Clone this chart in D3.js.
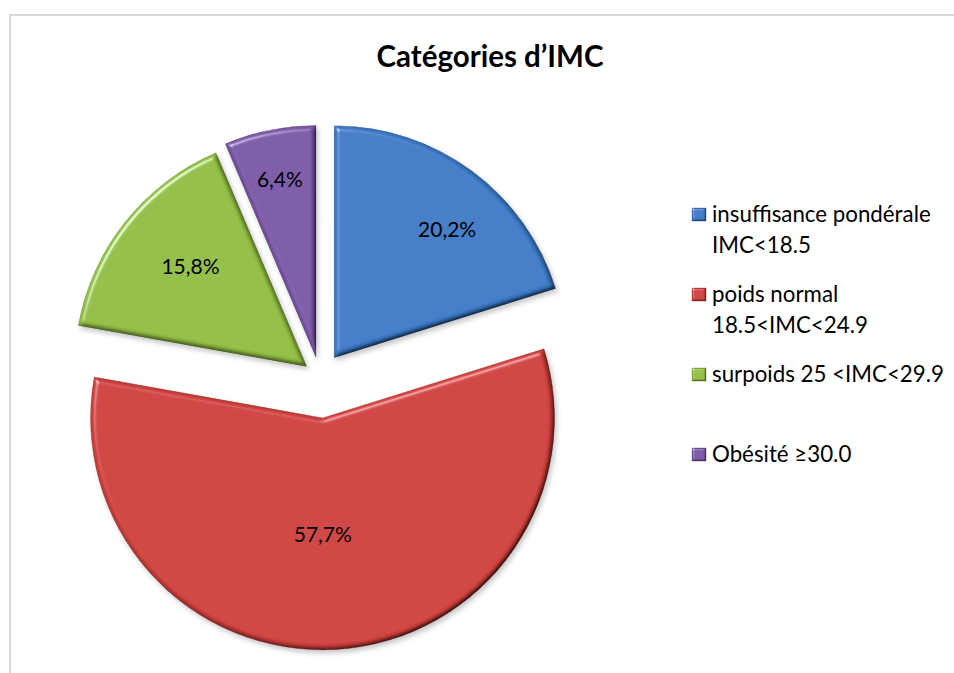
<!DOCTYPE html>
<html><head><meta charset="utf-8">
<script src="https://cdn.jsdelivr.net/npm/d3@7"></script>
<style>body{margin:0;background:#fff} svg{display:block}</style>
</head><body>
<svg id="chart" width="954" height="673"></svg>
<script>
// ---- data ----
const title = "Catégories d’IMC";
const categories = ["insuffisance pondérale\nIMC<18.5", "poids normal\n18.5<IMC<24.9", "surpoids 25 <IMC<29.9", "Obésité ≥30.0"];
const values = [20.2, 57.7, 15.8, 6.4];
const colors = ["#3C7AC6", "#CF413D", "#92BE42", "#7C58A7"];
const edgeColors = ["#264f86", "#8e2623", "#5f7f25", "#4f3572"];

// ---- layout config ----
const W = 954, H = 673;
const cx = 320, cy = 377, R = 232;
const explode = [24, 41, 17, 20];          // per-slice explosion (px)
const labelPlace = [[171, 5], [117, 3.5], [153, 2], [181, 0]]; // [radius, angle shift deg]

const fr = d3.formatLocale({decimal: ",", thousands: " ", grouping: [3], currency: ["", "€"]});
const fmt = v => fr.format(".1f")(v) + "%";

const svg = d3.select("#chart");
svg.append("rect").attr("width", W).attr("height", H).attr("fill", "#fff");
svg.append("rect").attr("x", 10).attr("y", 15).attr("width", 1000).attr("height", 800)
  .attr("fill", "none").attr("stroke", "#d9d9d9").attr("stroke-width", 2);

// bevel filter
const defs = svg.append("defs");
function makeBevel(id, blurSd, scale, shadow) {
  const f = defs.append("filter").attr("id", id)
    .attr("x", "-10%").attr("y", "-10%").attr("width", "125%").attr("height", "125%");
  f.append("feGaussianBlur").attr("in", "SourceAlpha").attr("stdDeviation", blurSd).attr("result", "blur");
  const dl = f.append("feDiffuseLighting").attr("in", "blur").attr("surfaceScale", scale)
    .attr("diffuseConstant", 1.16).attr("lighting-color", "#fff").attr("result", "diff");
  dl.append("feDistantLight").attr("azimuth", 225).attr("elevation", 60);
  f.append("feComposite").attr("in", "SourceGraphic").attr("in2", "diff")
    .attr("operator", "arithmetic").attr("k1", 1).attr("k2", 0).attr("k3", 0).attr("k4", 0).attr("result", "lit");
  const sl = f.append("feSpecularLighting").attr("in", "blur").attr("surfaceScale", scale)
    .attr("specularConstant", 0.6).attr("specularExponent", 30).attr("lighting-color", "#fff").attr("result", "spec");
  sl.append("feDistantLight").attr("azimuth", 225).attr("elevation", 35);
  f.append("feComposite").attr("in", "spec").attr("in2", "SourceAlpha").attr("operator", "in").attr("result", "specIn");
  f.append("feComposite").attr("in", "lit").attr("in2", "specIn")
    .attr("operator", "arithmetic").attr("k1", 0).attr("k2", 1).attr("k3", 1).attr("k4", 0).attr("result", "lit2");
  f.append("feComposite").attr("in", "lit2").attr("in2", "SourceAlpha").attr("operator", "in").attr("result", "final");
  if (shadow) {
    f.append("feGaussianBlur").attr("in", "SourceAlpha").attr("stdDeviation", 2.5).attr("result", "sblur");
    f.append("feOffset").attr("in", "sblur").attr("dx", 1.5).attr("dy", 2.5).attr("result", "soff");
    f.append("feFlood").attr("flood-color", "#000").attr("flood-opacity", 0.22).attr("result", "sfl");
    f.append("feComposite").attr("in", "sfl").attr("in2", "soff").attr("operator", "in").attr("result", "shadow");
    const fm = f.append("feMerge");
    fm.append("feMergeNode").attr("in", "shadow");
    fm.append("feMergeNode").attr("in", "final");
  }
}
makeBevel("bevel", 2.5, 5, true);
makeBevel("bevelSmall", 1, 2, false);

// title
svg.append("text").attr("x", 490).attr("y", 67).attr("text-anchor", "middle")
  .attr("font-family", "Lato, 'Open Sans', sans-serif").attr("font-weight", "bold")
  .attr("font-size", 29.5).attr("fill", "#000").text(title);

// pie
const pie = d3.pie().sort(null).value(d => d)(values);
const arc = d3.arc().innerRadius(0).outerRadius(R);
const g = svg.append("g").attr("transform", `translate(${cx},${cy})`);
pie.forEach((p, i) => {
  const a = (p.startAngle + p.endAngle) / 2;
  const ox = explode[i] * Math.sin(a), oy = -explode[i] * Math.cos(a);
  const sg = g.append("g").attr("transform", `translate(${ox},${oy})`);
  sg.append("path").attr("d", arc(p)).attr("fill", colors[i])
    .attr("stroke", edgeColors[i]).attr("stroke-width", 0.8).attr("stroke-opacity", 0.8)
    .attr("filter", "url(#bevel)");
  const la = a + labelPlace[i][1] * Math.PI / 180, lr = labelPlace[i][0];
  sg.append("text").attr("x", lr * Math.sin(la)).attr("y", -lr * Math.cos(la))
    .attr("text-anchor", "middle").attr("dy", "0.35em")
    .attr("font-family", "Lato, 'Open Sans', sans-serif").attr("font-size", 21)
    .attr("fill", "#000").text(fmt(values[i]));
});

// legend
const ly = d3.scalePoint().domain(categories).range([222, 462]);
const lg = svg.append("g");
categories.forEach((c, i) => {
  const y0 = ly(c);
  lg.append("rect").attr("x", 692).attr("y", y0 - 14).attr("width", 14).attr("height", 13)
    .attr("fill", colors[i]).attr("stroke", edgeColors[i]).attr("stroke-width", 0.8)
    .attr("filter", "url(#bevelSmall)");
  const t = lg.append("text").attr("x", 712).attr("y", y0)
    .attr("font-family", "Lato, 'Open Sans', sans-serif").attr("font-size", 22.3).attr("fill", "#000");
  c.split("\n").forEach((line, k) => {
    t.append("tspan").attr("x", 712).attr("y", y0 + k * 31).text(line);
  });
});
</script>
</body></html>
